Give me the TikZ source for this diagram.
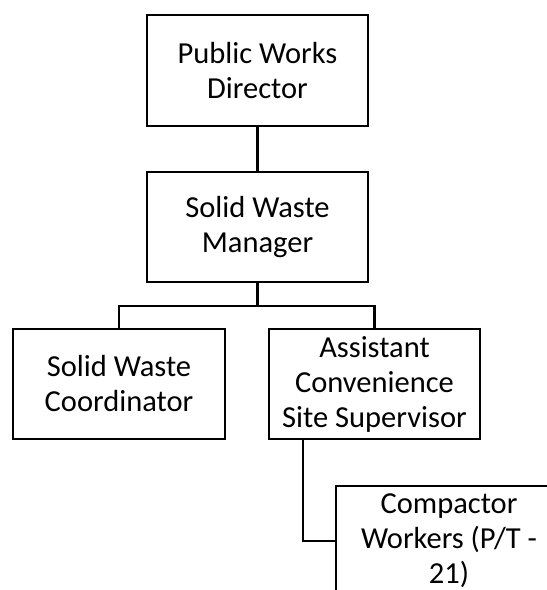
\documentclass[tikz,border=0pt]{standalone}
\usepackage{fontspec}
\setmainfont{Carlito}
\usetikzlibrary{positioning}

\begin{document}
\begin{tikzpicture}[x=1pt,y=-1pt,
        post/.style={draw, line width=2.4pt, align=center, inner sep=0pt,
                     minimum height=110pt, font=\fontsize{30.5}{35}\selectfont},
        link/.style={line width=2.4pt}]
            \useasboundingbox (0,0) rectangle (547,590);
            \clip (0,0) rectangle (547,590);

            \node[post, minimum width=221pt, minimum height=111pt] (director) at (257.5,70.5) {Public Works\\Director};
            \node[post, minimum width=221pt] (manager) at (257.5,227) {Solid Waste\\Manager};
            \node[post, minimum width=212pt] (coordinator) at (119,384) {Solid Waste\\Coordinator};
            \node[post, minimum width=211pt] (assistant) at (374.5,384) {Assistant\\Convenience\\Site Supervisor};
            \node[post, minimum width=226pt] (compactor) at (449,541) {Compactor\\Workers (P/T -\\21)};

            \draw[link] (director.south) -- (manager.north);
            \draw[link] (manager.south) -- ++(0,23) coordinate (bar);
            \draw[link] (coordinator.north) |- (bar) -| (assistant.north);
            \draw[link] ([xshift=35pt]assistant.south west) |- (compactor.west);

            \end{tikzpicture}
\end{document}
